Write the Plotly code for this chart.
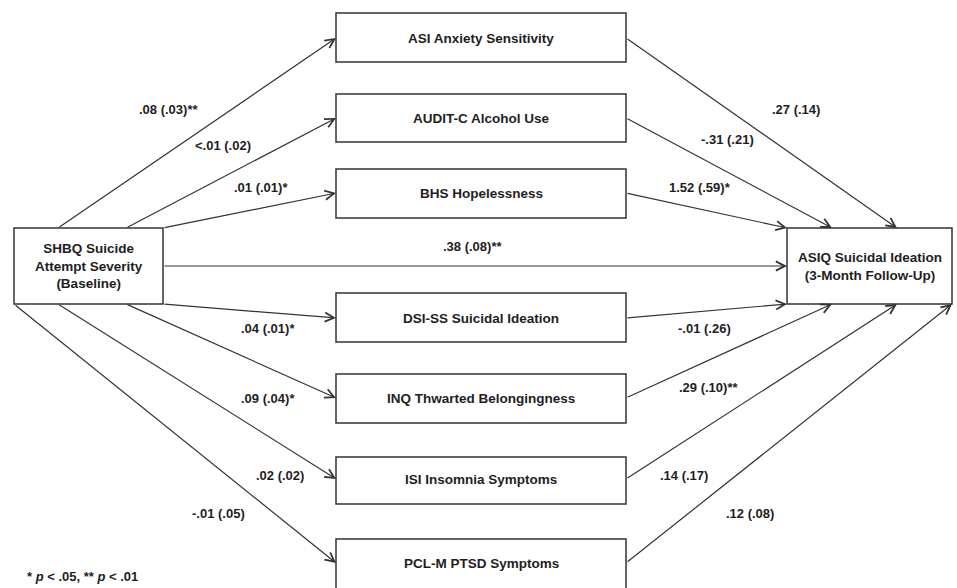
import plotly.graph_objects as go

# ---- data ----
predictor = ["SHBQ Suicide", "Attempt Severity", "(Baseline)"]
outcome = ["ASIQ Suicidal Ideation", "(3-Month Follow-Up)"]
mediators = ["ASI Anxiety Sensitivity", "AUDIT-C Alcohol Use", "BHS Hopelessness",
             "DSI-SS Suicidal Ideation", "INQ Thwarted Belongingness",
             "ISI Insomnia Symptoms", "PCL-M PTSD Symptoms"]
a_paths = [".08 (.03)**", "&lt;.01 (.02)", ".01 (.01)*", ".04 (.01)*",
           ".09 (.04)*", ".02 (.02)", "-.01 (.05)"]
b_paths = [".27 (.14)", "-.31 (.21)", "1.52 (.59)*", "-.01 (.26)",
           ".29 (.10)**", ".14 (.17)", ".12 (.08)"]
direct_path = ".38 (.08)**"
footnote = "* <i>p</i> &lt; .05, ** <i>p</i> &lt; .01"

# ---- layout geometry (pixel coordinates) ----
W, H = 957, 588
LINE = "#333333"
TXT = "#1e1e1e"
FONT = "Liberation Sans, Arial, sans-serif"

pred_box = (14, 228, 163, 304)
out_box = (787, 228, 952, 304)
med_x0, med_x1 = 336, 626
med_y = [(13, 62), (94, 142), (169, 218), (293, 342), (374, 423), (457, 504), (539, 596)]
med_cy = [38, 118, 193, 318, 398, 479, 563]
a_tails = [(58, 228), (126, 228), (163, 228), (163, 304), (126, 304), (58, 304), (14, 304)]
b_heads = [(897, 228), (832, 228), (787, 228), (787, 304), (832, 304), (897, 304), (952, 304)]
a_lab = [(168, 109), (223, 145), (261, 187), (268, 328), (268, 398), (280, 475), (218, 513)]
b_lab = [(796, 109), (727, 139), (700, 187), (704, 328), (708, 387), (684, 475), (750, 513)]

fig = go.Figure()
fig.add_trace(go.Scatter(x=[0, W], y=[0, H], mode="markers",
                         marker=dict(opacity=0), hoverinfo="skip", showlegend=False))

shapes = []
def box(x0, y0, x1, y1):
    shapes.append(dict(type="rect", xref="x", yref="y", x0=x0, y0=y0, x1=x1, y1=y1,
                       line=dict(color=LINE, width=1.5), fillcolor="rgba(0,0,0,0)"))

box(*pred_box)
box(*out_box)
for y0, y1 in med_y:
    box(med_x0, y0, med_x1, y1)

ann = []
def arrow(tx, ty, hx, hy):
    ann.append(dict(x=hx, y=hy, ax=tx, ay=ty, xref="x", yref="y", axref="x", ayref="y",
                    text="", showarrow=True, arrowhead=5, arrowsize=1.5, arrowwidth=1.2,
                    arrowcolor=LINE, standoff=0, startstandoff=0))

def label(x, y, t, size=13):
    ann.append(dict(x=x, y=y, xref="x", yref="y", text="<b>" + t + "</b>", showarrow=False,
                    font=dict(family=FONT, size=size, color=TXT), xanchor="center", yanchor="middle"))

# boxes' text
label((pred_box[0] + pred_box[2]) / 2, (pred_box[1] + pred_box[3]) / 2, "<br>".join(predictor), 13.5)
label((out_box[0] + out_box[2]) / 2, (out_box[1] + out_box[3]) / 2, "<br>".join(outcome), 13.5)
for i, m in enumerate(mediators):
    label((med_x0 + med_x1) / 2, med_cy[i], m, 13.5)

# paths
for i in range(len(mediators)):
    tx, ty = a_tails[i]
    arrow(tx, ty, med_x0, med_cy[i])
    hx, hy = b_heads[i]
    arrow(med_x1, med_cy[i], hx, hy)
    label(a_lab[i][0], a_lab[i][1], a_paths[i])
    label(b_lab[i][0], b_lab[i][1], b_paths[i])

arrow(pred_box[2], 266, out_box[0], 266)
label(472, 246, direct_path)

ann.append(dict(x=25, y=576, xref="x", yref="y", text="<b>" + footnote + "</b>", showarrow=False,
                font=dict(family=FONT, size=13, color=TXT), xanchor="left", yanchor="middle"))

fig.update_layout(
    width=W, height=H, margin=dict(l=0, r=0, t=0, b=0),
    paper_bgcolor="white", plot_bgcolor="white",
    xaxis=dict(range=[0, W], visible=False, fixedrange=True),
    yaxis=dict(range=[H, 0], visible=False, fixedrange=True),
    shapes=shapes, annotations=ann, showlegend=False,
)
fig.write_html("out.html", config={"displayModeBar": False},
               post_script="document.body.style.margin='0';document.body.style.overflow='hidden';")
